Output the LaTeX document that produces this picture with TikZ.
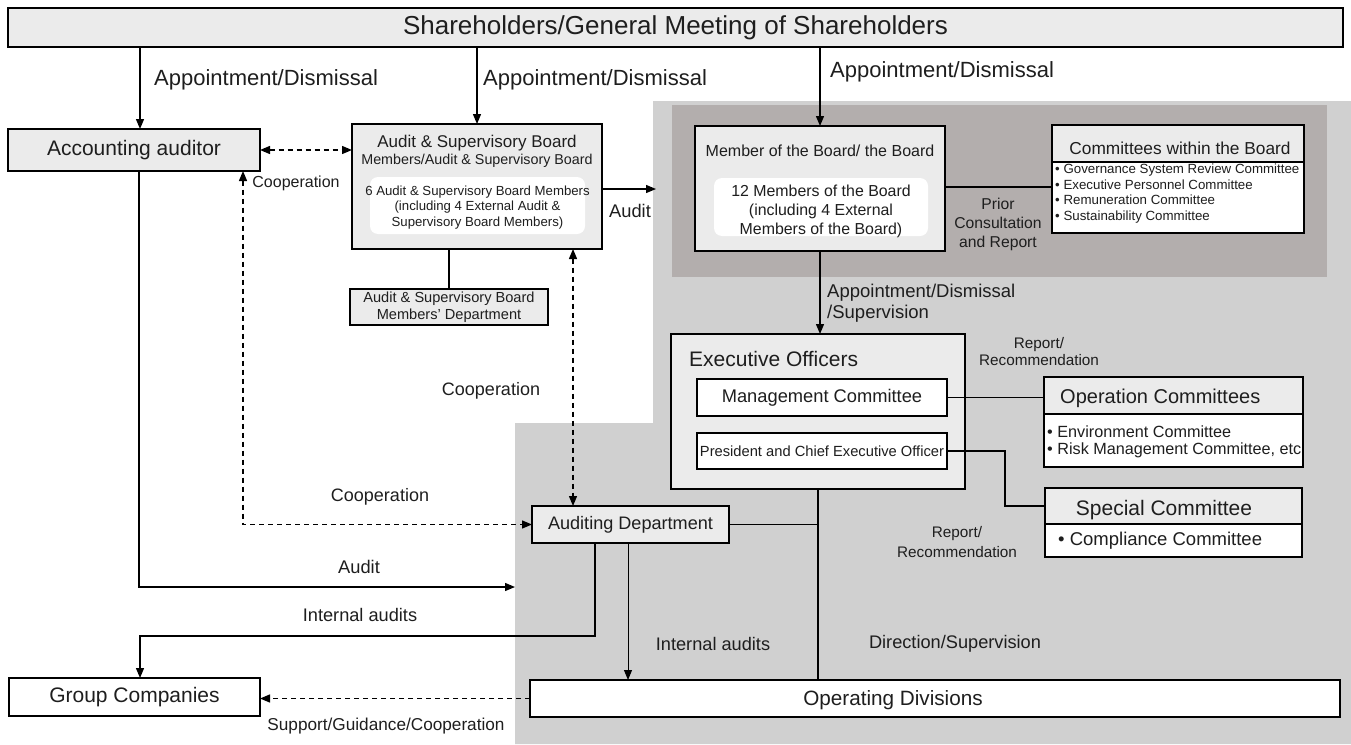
\documentclass[tikz,border=0pt]{standalone}
\usepackage{fontspec}
\setmainfont{Liberation Sans}
\usetikzlibrary{arrows.meta}
\definecolor{bglight}{HTML}{D0D0D0}
\definecolor{bgdark}{HTML}{B3AEAD}
\definecolor{boxgray}{HTML}{EBEBEB}
\definecolor{txt}{HTML}{1E1E1E}
\newcommand\fsz[2]{\fontsize{#1}{#2}\selectfont}
\tikzset{
  box/.style={draw=black, line width=1.8pt, fill=boxgray, inner sep=0pt, outer sep=0pt, anchor=north west, text=txt},
  wbox/.style={box, fill=white},
  inner/.style={fill=white, draw=none, rounded corners=8pt, inner sep=0pt, outer sep=0pt, anchor=north west},
  lbl/.style={text=txt, inner sep=0pt, align=center},
  conn/.style={line width=1.3pt},
  arr/.style={conn, -{Triangle[length=10pt,width=8pt]}},
  darr/.style={conn, dash pattern=on 5pt off 4pt, {Triangle[length=10pt,width=8pt]}-{Triangle[length=10pt,width=8pt]}},
  sarr/.style={conn, dash pattern=on 5pt off 4pt, -{Triangle[length=10pt,width=8pt]}}
}
\begin{document}
\begin{tikzpicture}[x=1pt,y=-1pt]
\useasboundingbox (0,0) rectangle (1351,744);
% background regions
\fill[bglight] (653,101) -- (1351,101) -- (1351,744) -- (515,744) -- (515,423) -- (653,423) -- cycle;
\fill[bgdark] (672,105) rectangle (1327,277);

% top bar
\node[box, minimum width=1335pt, minimum height=39pt, font=\fsz{26}{30}] (sh) at (8,8) {Shareholders/General Meeting of Shareholders};

% accounting auditor
\node[box, minimum width=252pt, minimum height=42pt, font=\fsz{21}{25}] (acct) at (8,129) {Accounting auditor};

% audit & supervisory board
\node[box, minimum width=250pt, minimum height=125pt] (asb) at (352,124) {};
\node[lbl, font=\fsz{17}{20}] (asbt1) at (477,143) {Audit \& Supervisory Board};
\node[lbl, font=\fsz{14.3}{17}] (asbt2) at (477,161) {Members/Audit \& Supervisory Board};
\node[inner, minimum width=215pt, minimum height=57pt] (asbin) at (370,177) {};
\node[lbl, font=\fsz{13.2}{15.5}] (asbtx) at (477.5,207.5) {6 Audit \& Supervisory Board Members\\(including 4 External Audit \&\\Supervisory Board Members)};
\node[box, minimum width=198pt, minimum height=36pt, font=\fsz{14.6}{17.5}, align=center] (asbdept) at (350,289) {Audit \& Supervisory Board\\Members' Department};

% board
\node[box, minimum width=250pt, minimum height=125pt] (board) at (695,126) {};
\node[lbl, font=\fsz{16}{19}] (boardt) at (820,151) {Member of the Board/ the Board};
\node[inner, minimum width=214pt, minimum height=58pt] (boardin) at (714,178) {};
\node[lbl, font=\fsz{15.9}{19}] (boardtx) at (821,211) {12 Members of the Board\\(including 4 External\\Members of the Board)};

% committees within the board
\node[box, minimum width=252pt, minimum height=37pt] (comh) at (1052,125) {};
\node[lbl, font=\fsz{17.3}{20}] (comht) at (1180,148) {Committees within the Board};
\node[wbox, minimum width=252pt, minimum height=71pt] (comb) at (1052,162) {};
\node[lbl, font=\fsz{13.3}{15.5}, anchor=north west, align=left] (combt) at (1055,164) {• Governance System Review Committee\\• Executive Personnel Committee\\• Remuneration Committee\\• Sustainability Committee};

% executive officers
\node[box, minimum width=294pt, minimum height=155pt] (exec) at (671,334) {};
\node[lbl, font=\fsz{21}{25}, anchor=west] (exect) at (689,359) {Executive Officers};
\node[wbox, minimum width=250pt, minimum height=37pt, font=\fsz{18.3}{22}] (mgmt) at (697,379) {Management Committee};
\node[wbox, minimum width=250pt, minimum height=36pt, font=\fsz{14.7}{18}] (pres) at (697,433) {President and Chief Executive Officer};

% operation committees
\node[box, minimum width=259pt, minimum height=37pt] (oph) at (1044,377) {};
\node[lbl, font=\fsz{20}{24}, anchor=west] (opht) at (1060,398) {Operation Committees};
\node[wbox, minimum width=259pt, minimum height=53pt] (opb) at (1044,414) {};
\node[lbl, font=\fsz{16.2}{17}, anchor=west, align=left] (opbt) at (1047,441.5) {• Environment Committee\\• Risk Management Committee, etc};

% special committee
\node[box, minimum width=257pt, minimum height=36pt] (sph) at (1045,488) {};
\node[lbl, font=\fsz{21}{25}] (spht) at (1164,510) {Special Committee};
\node[wbox, minimum width=257pt, minimum height=33pt] (spb) at (1045,524) {};
\node[lbl, font=\fsz{18.5}{22}, anchor=west] (spbt) at (1058,541) {• Compliance Committee};

% auditing department, group, operating divisions
\node[box, minimum width=197pt, minimum height=37pt, font=\fsz{18.1}{22}] (aud) at (532,506) {Auditing Department};
\node[wbox, minimum width=251pt, minimum height=38pt, font=\fsz{21}{25}] (group) at (9,678) {Group Companies};
\node[wbox, minimum width=810pt, minimum height=37pt] (opdiv) at (530,680) {};
\node[lbl, font=\fsz{20.7}{25}] (opdivt) at (893,700) {Operating Divisions};

% ---- connectors ----
\coordinate (acctin) at ([xshift=6pt]acct.north);
\draw[arr] (sh.south -| acctin) -- (acctin);
\draw[arr] (sh.south -| asb.north) -- (asb.north);
\draw[arr] (sh.south -| board.north) -- (board.north);
\node[lbl, font=\fsz{22}{26}, anchor=west] (l1) at (154,80) {Appointment/Dismissal};
\node[lbl, font=\fsz{22}{26}, anchor=west] (l2) at (483,80) {Appointment/Dismissal};
\node[lbl, font=\fsz{22}{26}, anchor=west] (l3) at (830,72) {Appointment/Dismissal};

\draw[darr] (acct.east) -- (acct.east -| asb.west);
\node[lbl, font=\fsz{16}{19}] (coop1) at (296,183) {Cooperation};
\coordinate (acctcoop) at ([xshift=-17pt]acct.south east);
\draw[darr] (acctcoop) |- (aud.west);
\node[lbl, font=\fsz{18}{21}] (coop2) at (380,497) {Cooperation};

\coordinate (auditend) at (656,189);
\draw[arr] (asb.east |- auditend) -- (auditend);
\node[lbl, font=\fsz{18.3}{22}] (auditl) at (630,211) {Audit};

\coordinate (asbcoop) at ([xshift=-29pt]asb.south east);
\draw[darr] (asbcoop) -- (asbcoop |- aud.north);
\node[lbl, font=\fsz{18}{21}] (coop3) at (491,391) {Cooperation};

\draw[conn] (asbdept.north) -- (asbdept.north |- asb.south);

\coordinate (priory) at (0,187);
\draw[conn] (board.east |- priory) -- (comb.west |- priory);
\node[lbl, font=\fsz{15.7}{19}] (prior) at (998,224) {Prior\\Consultation\\and Report};

\draw[arr] (board.south) -- (board.south |- exec.north);
\node[lbl, font=\fsz{18.5}{21}, anchor=west, align=left] (l4) at (827,303.5) {Appointment/Dismissal\\/Supervision};

\draw[conn] (mgmt.east) -- (mgmt.east -| oph.west);
\coordinate (spy) at (0,506);
\draw[conn, line width=1.8pt] (pres.east) -- ++(58,0) |- (sph.west |- spy);
\node[lbl, font=\fsz{15.3}{17}] (rep1) at (1039,351.5) {Report/\\Recommendation};
\node[lbl, font=\fsz{15.3}{20}] (rep2) at (957,542) {Report/\\Recommendation};

\draw[conn] (exec.south) -- (exec.south |- opdiv.north);
\draw[conn] (aud.east) -- (aud.east -| exec.south);

\coordinate (iaturn) at (140,636);
\coordinate (audia) at ([xshift=63pt]aud.south west);
\draw[arr] (audia) |- (iaturn) -- (iaturn |- group.north);
\node[lbl, font=\fsz{18.2}{22}] (ia1) at (360,615) {Internal audits};
\coordinate (audop) at ([xshift=96pt]aud.south west);
\draw[line width=1pt, -{Triangle[length=10pt,width=8pt]}] (audop) -- (audop |- opdiv.north);
\node[lbl, font=\fsz{18.2}{22}] (ia2) at (713,644) {Internal audits};
\node[lbl, font=\fsz{18.2}{22}] (dirsup) at (955,644) {Direction/Supervision};

\coordinate (auditend2) at (515,587);
\coordinate (acctaud) at ([xshift=5pt]acct.south);
\draw[arr] (acctaud) |- (auditend2);
\node[lbl, font=\fsz{18.3}{22}] (auditl2) at (359,567) {Audit};

\draw[sarr] (opdiv.west) -- (opdiv.west -| group.east);
\node[lbl, font=\fsz{17.2}{20}] (sgc) at (386,726) {Support/Guidance/Cooperation};
\end{tikzpicture}
\end{document}
